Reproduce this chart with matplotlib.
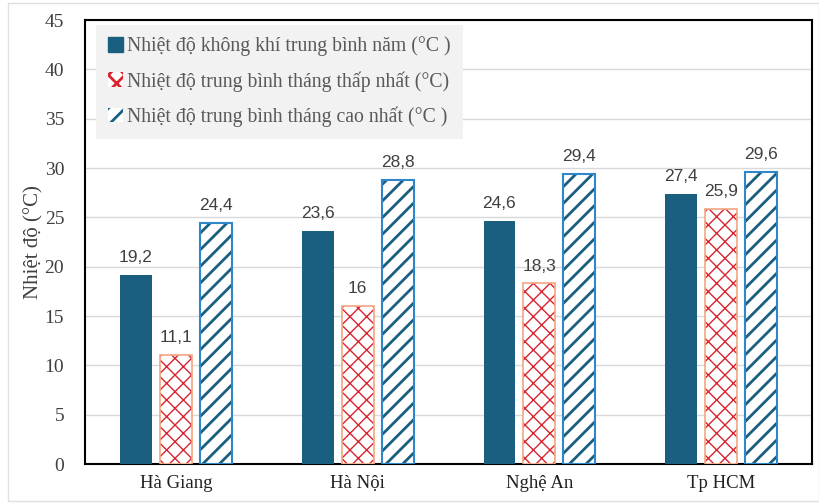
import matplotlib
matplotlib.use("Agg")
import matplotlib.pyplot as plt
import numpy as np
from matplotlib.patches import Patch, Rectangle

# Data
provinces = ["Hà Giang", "Hà Nội", "Nghệ An", "Tp HCM"]
annual_mean = [19.2, 23.6, 24.6, 27.4]
coldest_month = [11.1, 16, 18.3, 25.9]
hottest_month = [24.4, 28.8, 29.4, 29.6]
series_names = [
    "Nhiệt độ không khí trung bình năm (°C )",
    "Nhiệt độ trung bình tháng thấp nhất (°C)",
    "Nhiệt độ trung bình tháng cao nhất (°C )",
]
y_ticks = [0, 5, 10, 15, 20, 25, 30, 35, 40, 45]

serif = "Liberation Serif"
sans = "Liberation Sans"
dark_blue = "#1a5e80"
red_hatch = "#d9232e"
red_edge = "#f4a582"
blue_edge = "#2f86c8"
label_col = "#404040"

plt.rcParams["hatch.linewidth"] = 1.0

fig = plt.figure(figsize=(8.19, 5.03), dpi=100)
ax = fig.add_axes([0.1038, 0.0775, 0.8877, 0.8825])

x = np.arange(len(provinces))
w = 0.175
off = 0.22

# annual mean: solid bars
ax.bar(x - off, annual_mean, w, color=dark_blue, zorder=3)

# coldest month: red brick-like hatch with salmon outline
ax.bar(x, coldest_month, w, color="white", edgecolor=red_hatch, hatch="xx",
       linewidth=0, zorder=3)
ax.bar(x, coldest_month, w, fill=False, edgecolor=red_edge, linewidth=1.2, zorder=4)

# hottest month: diagonal stripes with blue outline
plt.rcParams["hatch.linewidth"] = 2.0
ax.bar(x + off, hottest_month, w, color="white", edgecolor=dark_blue, hatch="//",
       linewidth=0, zorder=3)
ax.bar(x + off, hottest_month, w, fill=False, edgecolor=blue_edge, linewidth=1.5, zorder=4)

# value labels
for vals, dx in ((annual_mean, -off), (coldest_month, 0), (hottest_month, off)):
    for xi, v in zip(x, vals):
        txt = f"{v:g}".replace(".", ",")
        ax.text(xi + dx, v + 1.0, txt, ha="center", va="bottom",
                fontsize=12.5, family=sans, color=label_col, zorder=5)

ax.set_xlim(-0.5, len(provinces) - 0.5)
ax.set_ylim(0, 45)
ax.set_yticks(y_ticks)
ax.set_yticklabels([str(t) for t in y_ticks], family=serif, fontsize=14, color="#404040")
ax.set_xticks(x)
ax.set_xticklabels(provinces, family=serif, fontsize=13.5, color="#202020")
ax.tick_params(axis="y", length=0, pad=15)
ax.tick_params(axis="x", length=0, pad=8)
ax.yaxis.grid(True, color="#d9d9d9", linewidth=1.0, zorder=0)
ax.set_axisbelow(True)
for s in ax.spines.values():
    s.set_color("black")
    s.set_linewidth(1.5)

ax.set_ylabel("Nhiệt độ (°C)", family=serif, fontsize=15, color="#404040", labelpad=1)

handles = [
    Patch(facecolor=dark_blue, edgecolor=dark_blue),
    Patch(facecolor="white", edgecolor=red_hatch, hatch="xx", linewidth=0),
    Patch(facecolor="white", edgecolor=dark_blue, hatch="//", linewidth=0),
]
leg = ax.legend(handles, series_names, loc="upper left", bbox_to_anchor=(0.015, 0.99),
                prop={"family": serif, "size": 14.2}, frameon=True, fancybox=False,
                facecolor="#f2f2f2", edgecolor="none", framealpha=1,
                handlelength=0.75, handleheight=0.75, handletextpad=0.25,
                labelspacing=0.75, borderpad=0.6, borderaxespad=0)
for t in leg.get_texts():
    t.set_color("#595959")
leg.set_zorder(6)

# faint outer frame
fig.patches.append(Rectangle((8 / 819, 0.004), 1 - 8 / 819, 0.99,
                             transform=fig.transFigure, fill=False,
                             edgecolor="#e0e0e0", linewidth=1))

fig.savefig("out.png", dpi=100)
